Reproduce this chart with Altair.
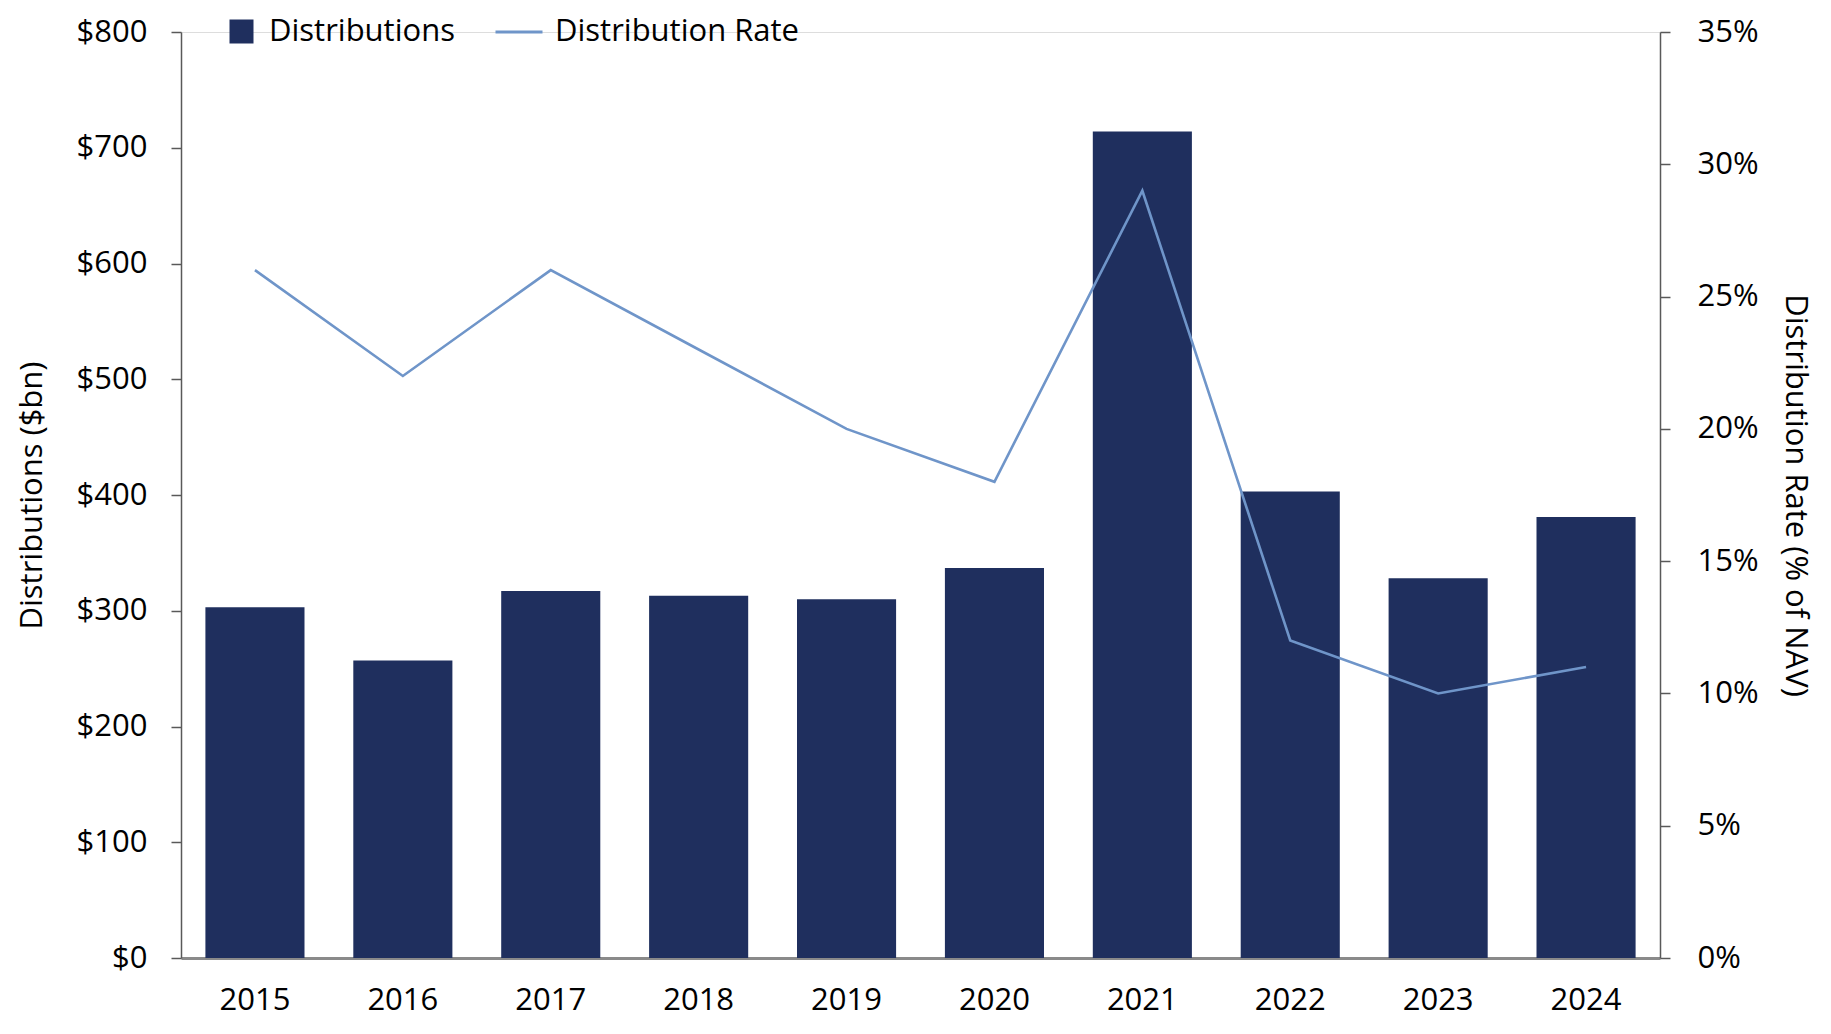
import altair as alt
import pandas as pd

years = ["2015", "2016", "2017", "2018", "2019", "2020", "2021", "2022", "2023", "2024"]
distributions = [303, 257, 317, 313, 310, 337, 714, 403, 328, 381]
rate_pct = [26, 22, 26, 23, 20, 18, 29, 12, 10, 11]

df = pd.DataFrame({
    "year": years,
    "dist": distributions,
    "rate": [r / 100 for r in rate_pct],
    "s1": ["Distributions"] * len(years),
    "s2": ["Distribution Rate"] * len(years),
})

FONT = "Open Sans"
FS = 31
BAR = "#1f2f5e"
LINE = "#6f95c9"
W, H = 1479, 926

base = alt.Chart(df)

x_enc = alt.X(
    "year:N",
    sort=years,
    scale=alt.Scale(paddingInner=0.33, paddingOuter=0.165),
    axis=alt.Axis(
        title=None, labelAngle=0, ticks=False, domainColor="#8a8a8a", domainWidth=3,
        labelFontSize=FS, labelColor="#000000", labelPadding=27, labelFont=FONT,
    ),
)

bars = base.mark_bar().encode(
    x=x_enc,
    y=alt.Y(
        "dist:Q",
        scale=alt.Scale(domain=[0, 800], nice=False),
        axis=alt.Axis(
            orient="left", title="Distributions ($bn)", values=list(range(0, 801, 100)),
            labelExpr="'$' + datum.value", grid=False, tickSize=10, tickColor="#595959",
            domainColor="#595959", domainWidth=1.5, tickWidth=1.5, labelPadding=24,
            labelFontSize=FS, labelColor="#000000", labelFont=FONT,
            titleFontSize=FS, titleFontWeight="normal", titleFont=FONT, titleColor="#000000",
            titleX=-149, titleY=H / 2, titleAngle=270, titleBaseline="middle", titleAlign="center",
        ),
    ),
    color=alt.Color(
        "s1:N",
        scale=alt.Scale(domain=["Distributions"], range=[BAR]),
        legend=alt.Legend(
            title=None, orient="none", legendX=45, legendY=-16, symbolType="square",
            symbolSize=576, symbolStrokeWidth=0, labelFontSize=FS, labelFont=FONT,
            labelColor="#000000", labelOffset=12, padding=0, symbolOpacity=1,
            labelLimit=0,
        ),
    ),
)

line = base.mark_line(strokeWidth=2.6).encode(
    x=alt.X("year:N", sort=years),
    y=alt.Y(
        "rate:Q",
        scale=alt.Scale(domain=[0, 0.35], nice=False),
        axis=alt.Axis(
            orient="right", title="Distribution Rate (% of NAV)",
            values=[0, 0.05, 0.1, 0.15, 0.2, 0.25, 0.3, 0.35], format=".0%",
            grid=False, tickSize=10, tickColor="#595959", domainColor="#595959",
            domainWidth=1.5, tickWidth=1.5, labelPadding=27,
            labelFontSize=FS, labelColor="#000000", labelFont=FONT,
            titleFontSize=FS, titleFontWeight="normal", titleFont=FONT, titleColor="#000000",
            titleX=134, titleY=H / 2, titleAngle=90, titleBaseline="middle", titleAlign="center",
        ),
    ),
    color=alt.Color(
        "s2:N",
        scale=alt.Scale(domain=["Distribution Rate"], range=[LINE]),
        legend=alt.Legend(
            title=None, orient="none", legendX=313, legendY=-25, symbolType="stroke",
            symbolSize=2209, symbolStrokeWidth=3, labelFontSize=FS, labelFont=FONT,
            labelColor="#000000", labelOffset=11, padding=0, labelLimit=0,
        ),
    ),
)

chart = (
    alt.layer(bars, line)
    .resolve_scale(y="independent", color="independent")
    .properties(
        width=W, height=H,
        autosize=alt.AutoSizeParams(type="none"),
        padding={"left": 173, "top": 24, "right": 160, "bottom": 60},
    )
    .configure_view(stroke=None)
    .configure(font=FONT)
)

chart.save("out.html", embed_options={"renderer": "svg", "actions": False})
